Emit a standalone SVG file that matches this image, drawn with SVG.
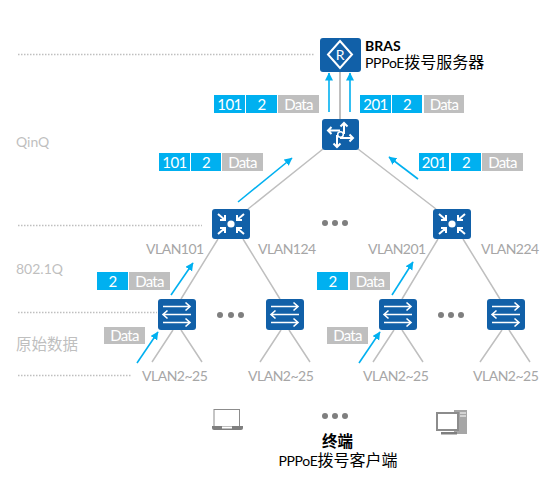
<svg xmlns="http://www.w3.org/2000/svg" width="559" height="479" viewBox="0 0 559 479">
<style>
text{font-family:Lato,"Noto Sans CJK SC",sans-serif;font-size:14px}
.g{fill:#a6a6a6;letter-spacing:-.5px}
.lg{fill:#bfbfbf}
.k{fill:#000;letter-spacing:-.3px}
.w{fill:#fff;text-anchor:middle;font-size:15px;letter-spacing:-.5px}
.t{font-size:15px;letter-spacing:-.7px}
.z{font-size:16px;letter-spacing:0}
.c{text-anchor:middle}
.b{fill:#00b0f0}
.d{fill:#bfbfbf}
.dot{stroke:#bfbfbf;stroke-width:1.500;stroke-dasharray:1.500 1.500;fill:none}
.ln{stroke:#bfbfbf;stroke-width:1.500;fill:none}
.ar{stroke:#00b0f0;stroke-width:1.600;fill:none;marker-end:url(#a)}
.ic{stroke:#fff;stroke-width:1.600;fill:none}
.ic2{stroke:#fff;stroke-width:2;fill:none}
.box{fill:#1160a8}
</style>
<defs>
<marker id="a" markerUnits="userSpaceOnUse" markerWidth="9" markerHeight="9" refX="7.500" refY="4" orient="auto"><path d="M0 0L8 4L0 8z" fill="#00b0f0"/></marker>
<g id="sw">
<rect class="box" width="38" height="31" rx="3"/>
<path class="ic" d="M5 7.500H32M27.500 3.500L32 7.500L27.500 11.500M33 15.500H5M9.500 11.500L5 15.500L9.500 19.500M5 23.500H32M27.500 19.500L32 23.500L27.500 27.500"/>
</g>
<g id="agg">
<rect class="box" width="38" height="30" rx="3"/>
<circle cx="19" cy="15" r="3.600" fill="#fff"/>
<path class="ic2" d="M6 5L13 11M8 11H13V6M32 5L25 11M30 11H25V6M6 25L13 19M8 19H13V24M32 25L25 19M30 19H25V24"/>
</g>
</defs>
<g id="tiers">
<path class="dot" d="M18 54.500H315M18 225.500H202M18 312.500H157M18 375.500H132"/>
<text x="16" y="147" class="lg">QinQ</text>
<text x="16" y="274" class="lg">802.1Q</text>
<text x="16" y="350" class="lg" style="font-size:15.500px">原始数据</text>
</g>
<g id="connectors">
<path class="ln" style="stroke-width:2" d="M340 72V119"/>
<path class="ln" d="M323 149L248 209M358 149L436 209M218 239L181 299M243 239L280 299M438 239L402 299M463 239L500 299"/>
<path class="ln" d="M173 330L152 362M181 330L202 362M281 330L260 362M289 330L310 362M394 330L373 362M402 330L423 362M502 330L480 362M509 330L530 362"/>
<path class="ar" d="M329 112V73"/>
<path class="ar" d="M350 112V73"/>
<path class="ar" d="M238 202L292 158"/>
<path class="ar" d="M418 179L389 157"/>
<path class="ar" d="M171 295L193 263"/>
<path class="ar" d="M392 295L413 262"/>
<path class="ar" d="M137 363L158 332"/>
<path class="ar" d="M359 363L380 332"/>
</g>
<g id="pkt-top-left">
<rect class="b" x="214" y="95" width="31" height="18"/><rect class="b" x="246" y="95" width="31" height="18"/><rect class="d" x="278" y="95" width="41" height="18"/>
<text x="229.500" y="110" class="w">101</text><text x="261.500" y="110" class="w">2</text><text x="298.500" y="110" class="w t">Data</text>
</g>
<g id="pkt-top-right">
<rect class="b" x="360" y="95" width="31" height="18"/><rect class="b" x="392" y="95" width="30" height="18"/><rect class="d" x="424" y="95" width="40" height="18"/>
<text x="375.500" y="110" class="w">201</text><text x="407" y="110" class="w">2</text><text x="444" y="110" class="w t">Data</text>
</g>
<g id="pkt-mid-left">
<rect class="b" x="159" y="153" width="31" height="18"/><rect class="b" x="191" y="153" width="30" height="18"/><rect class="d" x="222" y="153" width="41" height="18"/>
<text x="174.500" y="168" class="w">101</text><text x="206" y="168" class="w">2</text><text x="242.500" y="168" class="w t">Data</text>
</g>
<g id="pkt-mid-right">
<rect class="b" x="419" y="153" width="30" height="18"/><rect class="b" x="451" y="153" width="30" height="18"/><rect class="d" x="482" y="153" width="41" height="18"/>
<text x="434" y="168" class="w">201</text><text x="466" y="168" class="w">2</text><text x="502.500" y="168" class="w t">Data</text>
</g>
<g id="pkt-l2-left">
<rect class="b" x="97" y="272" width="31" height="18"/><rect class="d" x="129" y="272" width="41" height="18"/>
<text x="112.500" y="287" class="w">2</text><text x="149.500" y="287" class="w t">Data</text>
</g>
<g id="pkt-l2-right">
<rect class="b" x="317" y="272" width="31" height="18"/><rect class="d" x="350" y="272" width="40" height="18"/>
<text x="332.500" y="287" class="w">2</text><text x="370" y="287" class="w t">Data</text>
</g>
<g id="pkt-raw-left"><rect class="d" x="104" y="327" width="41" height="17"/><text x="124.500" y="341" class="w t">Data</text></g>
<g id="pkt-raw-right"><rect class="d" x="327" y="327" width="41" height="17"/><text x="347.500" y="341" class="w t">Data</text></g>
<g id="bras">
<rect class="box" x="320" y="38" width="41" height="34" rx="3"/>
<path d="M340 41L352 54.500L340 68L328 54.500z" fill="none" stroke="#fff" stroke-width="2"/>
<text x="340" y="60" class="w" style="font-size:14px">R</text>
<text x="365" y="51" style="font-weight:700">BRAS</text>
<text x="365" y="68" class="k">PPPoE<tspan class="z">拨号服务器</tspan></text>
</g>
<g id="core">
<rect class="box" x="322" y="119" width="37" height="31" rx="3"/>
<path class="ic2" d="M344 134V123M340.500 126.500L344 123L347.500 126.500M340 138H353M349.500 134.500L353 138L349.500 141.500M337 135V147M333.500 143.500L337 147L340.500 143.500M340 130.500H328M331.500 127L328 130.500L331.500 134"/>
<circle cx="340.500" cy="134.500" r="2.800" fill="#1160a8" stroke="#fff" stroke-width="1.500"/>
</g>
<g id="agg-left"><use href="#agg" x="212" y="209"/><text x="146" y="254" class="g">VLAN101</text></g>
<g id="agg-right"><use href="#agg" x="433" y="209"/><text x="368" y="254" class="g">VLAN201</text></g>
<text x="258" y="254" class="g">VLAN124</text>
<text x="481" y="254" class="g">VLAN224</text>
<g id="acc1"><use href="#sw" x="158" y="299"/><text x="142" y="381" class="g">VLAN2~25</text></g>
<g id="acc2"><use href="#sw" x="266" y="299"/><text x="248" y="381" class="g">VLAN2~25</text></g>
<g id="acc3"><use href="#sw" x="379" y="299"/><text x="363" y="381" class="g">VLAN2~25</text></g>
<g id="acc4"><use href="#sw" x="487" y="299"/><text x="473" y="381" class="g">VLAN2~25</text></g>
<g id="ellipses" fill="#7f7f7f">
<circle cx="325" cy="223" r="3"/><circle cx="335" cy="223" r="3"/><circle cx="345" cy="223" r="3"/>
<circle cx="220" cy="315" r="3"/><circle cx="231" cy="315" r="3"/><circle cx="241" cy="315" r="3"/>
<circle cx="441" cy="315" r="3"/><circle cx="451" cy="315" r="3"/><circle cx="461" cy="315" r="3"/>
<circle cx="325" cy="416" r="3"/><circle cx="335" cy="416" r="3"/><circle cx="345" cy="416" r="3"/>
</g>
<g id="laptop">
<rect x="214" y="409.500" width="25.500" height="17" fill="none" stroke="#8c8c8c"/>
<path d="M212 426H243V428Q243 430 241 430H214Q212 430 212 428z" fill="#7f7f7f"/>
<rect x="222" y="426.500" width="10" height="2" fill="#fff"/>
</g>
<g id="pc" fill="#7f7f7f">
<path d="M454 410H467V434H454z" fill="#a6a6a6"/>
<path d="M460 413H466M460 416H466" stroke="#fff"/>
<rect x="437" y="413" width="21" height="17" fill="#fff" stroke="#8c8c8c" stroke-width="2"/>
<path d="M441 432H457V434.500H441z"/>
</g>
<g id="clients">
<text x="337.500" y="447" class="c" style="font-size:15.500px;font-weight:700">终端</text>
<text x="338" y="466" class="c k">PPPoE<tspan class="z">拨号客户端</tspan></text>
</g>
</svg>
